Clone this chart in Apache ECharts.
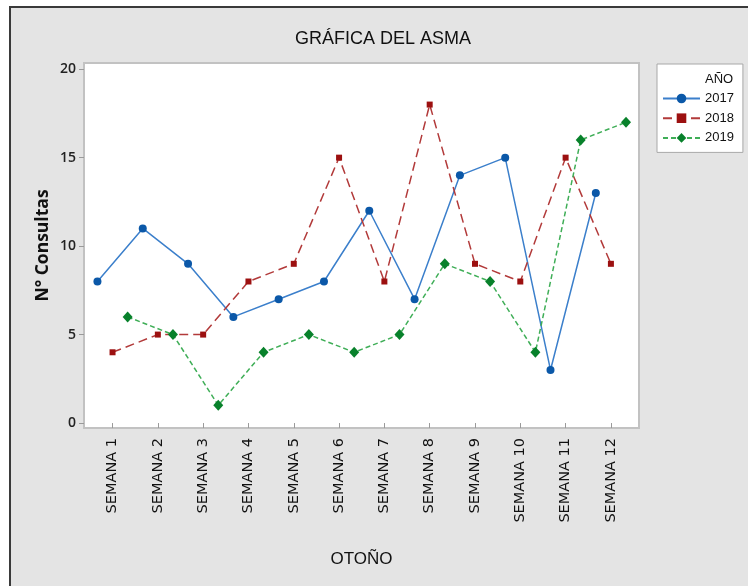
<!DOCTYPE html>
<html>
<head>
<meta charset="utf-8">
<script src="https://cdn.jsdelivr.net/npm/echarts@6/dist/echarts.min.js"></script>
<style>
	html, body { margin: 0; padding: 0; background: #fff; }
	#main { position: absolute; left: 0; top: 0; width: 748px; height: 586px; }
	.edge { position: absolute; background: #fff; }
</style>
</head>
<body>
<div id="main"></div>
<div class="edge" style="left:0;top:0;width:748px;height:6px;"></div>
<div class="edge" style="left:0;top:0;width:9px;height:586px;"></div>
<div class="edge" style="left:9px;top:6px;width:739px;height:2px;background:#3a3a3a;"></div>
<div class="edge" style="left:9px;top:6px;width:2px;height:580px;background:#3a3a3a;"></div>
<script>
// semanas del otoño
var semanas = ['SEMANA 1', 'SEMANA 2', 'SEMANA 3', 'SEMANA 4', 'SEMANA 5', 'SEMANA 6',
	'SEMANA 7', 'SEMANA 8', 'SEMANA 9', 'SEMANA 10', 'SEMANA 11', 'SEMANA 12'];
// consultas por año
var consultas2017 = [8, 11, 9, 6, 7, 8, 12, 7, 14, 15, 3, 13];
var consultas2018 = [4, 5, 5, 8, 9, 15, 8, 18, 9, 8, 15, 9];
var consultas2019 = [6, 5, 1, 4, 5, 4, 5, 9, 8, 4, 16, 17];
var ticksY = [0, 5, 10, 15, 20];

var posX = semanas.map(function (s, i) { return i + 1; });

// cada año se desplaza un poco dentro de la semana
function puntos(valores, desplaza) {
	return valores.map(function (v, i) { return [posX[i] + desplaza, v]; });
}

var fuente = "'Liberation Sans', sans-serif";

var chart = echarts.init(document.getElementById('main'));
var option = {
	backgroundColor: '#e4e4e4',
	animation: false,
	title: [{
		text: 'GRÁFICA DEL ASMA',
		left: 383,
		top: 30,
		padding: 0,
		textAlign: 'center',
		textStyle: { fontFamily: fuente, fontSize: 18, fontWeight: 'normal', color: '#111' }
	}, {
		text: 'AÑO',
		left: 705,
		top: 73,
		padding: 0,
		textStyle: { fontFamily: fuente, fontSize: 13, fontWeight: 'normal', color: '#111' }
	}],
	legend: {
		orient: 'vertical',
		left: 657,
		top: 64,
		padding: [28, 9, 8, 5],
		itemWidth: 37,
		itemHeight: 12,
		itemGap: 6.7,
		backgroundColor: '#fff',
		borderColor: '#a8a8a8',
		borderWidth: 1,
		textStyle: { fontFamily: fuente, fontSize: 13, color: '#111' },
		data: ['2017', '2018', '2019']
	},
	grid: {
		left: 84,
		top: 63,
		right: 109,
		bottom: 158,
		show: true,
		backgroundColor: '#fff',
		borderColor: '#c2c2c2',
		borderWidth: 2
	},
	xAxis: {
		type: 'value',
		min: 0.37,
		max: 12.62,
		name: 'OTOÑO',
		nameLocation: 'middle',
		nameGap: 123,
		nameTextStyle: { fontFamily: fuente, fontSize: 17, color: '#111' },
		axisLine: { show: false },
		splitLine: { show: false },
		axisTick: { customValues: posX, length: 5, lineStyle: { color: '#9a9a9a' } },
		axisLabel: {
			customValues: posX,
			rotate: 90,
			margin: 10,
			fontFamily: 'DejaVu Sans',
			fontSize: 14.5,
			color: '#111',
			formatter: function (v) { return semanas[Math.round(v) - 1]; }
		}
	},
	yAxis: {
		type: 'value',
		min: -0.28,
		max: 20.35,
		name: 'N° Consultas',
		nameLocation: 'middle',
		nameGap: 32,
		nameMoveOverlap: false,
		nameTextStyle: { fontFamily: 'Open Sans', fontSize: 17.5, fontWeight: 'bold', color: '#111' },
		axisLine: { show: false },
		splitLine: { show: false },
		axisTick: { customValues: ticksY, length: 5, lineStyle: { color: '#9a9a9a' } },
		axisLabel: {
			customValues: ticksY,
			margin: 8,
			fontFamily: 'Open Sans',
			fontSize: 14,
			fontWeight: 600,
			color: '#222'
		}
	},
	series: [{
		name: '2017',
		type: 'line',
		data: puntos(consultas2017, -1 / 3),
		symbol: 'circle',
		symbolSize: 8,
		itemStyle: { color: '#0b58a8' },
		lineStyle: { color: '#3b7fcb', width: 1.5, type: 'solid' }
	}, {
		name: '2018',
		type: 'line',
		data: puntos(consultas2018, 0),
		symbol: 'rect',
		symbolSize: 6,
		itemStyle: { color: '#9c1010' },
		lineStyle: { color: '#b23a3a', width: 1.5, type: [9, 5] }
	}, {
		name: '2019',
		type: 'line',
		data: puntos(consultas2019, 1 / 3),
		symbol: 'diamond',
		symbolSize: [10, 11],
		itemStyle: { color: '#08812b' },
		lineStyle: { color: '#3fae57', width: 1.5, type: [5, 3] }
	}]
};
chart.setOption(option, true);
</script>
</body>
</html>
